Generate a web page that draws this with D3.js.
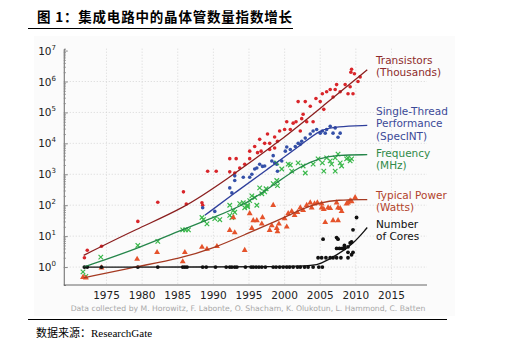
<!DOCTYPE html>
<html>
<head>
<meta charset="utf-8">
<script src="https://cdn.jsdelivr.net/npm/d3@7"></script>
<style>
  body { margin: 0; background: #fff; }
  text { font-family: "DejaVu Sans", sans-serif; }
</style>
</head>
<body>
<div id="chart"></div>
<script>
// values, [year, value]
const transistors = [[1971.9,2],[1972.3,3.5],[1974.3,4.7],[1979.4,30],[1982.2,125],[1985.8,270],[1986.2,110],
  [1988.4,120],[1988.5,100],[1989.2,1250],[1990.4,1250],[1992.3,3200],[1993.2,3200],[1992.3,1200],[1993,1100],
  [1993.7,1600],[1994.4,2100],[1995.1,3200],[1995.1,5600],[1995.8,7900],[1996.2,5000],[1996.7,5600],[1997.2,10000],
  [1996.5,13500],[1997.9,10000],[1997.6,20000],[1998.6,16000],[1998.6,7100],[1999.3,25000],[1999,11700],[2000,28000],
  [1997.9,6300],[2000.3,50000],[2000.8,28000],[2001.2,45000],[2001.6,50000],[2002.2,25000],[2002.4,63000],
  [2002.6,87000],[2003.1,50000],[2001.9,224000],[2002.9,224000],[2003.6,158000],[2004,50000],[2004.4,282000],
  [2005,224000],[2005.3,400000],[2005.5,126000],[2005.9,468000],[2006.4,550000],[2006.8,316000],[2007.1,550000],
  [2007.3,794000],[2007.8,468000],[2008.5,794000],[2009.2,676000],[2008.9,400000],[2009.6,400000],[2009.3,2000000],
  [2009.4,2500000],[2009.8,1780000],[2010.6,1410000],[2010.3,1000000]];

const singleThread = [[1988.5,83],[1990.2,63],[1992.3,363],[1992.6,250],[1993,630],[1993,890],[1994.2,800],
  [1995.4,1000],[1995.8,1480],[1996.1,1600],[1996.5,2100],[1996.9,1800],[1998.6,2350],[1995.1,800],[1997.2,1860],
  [1998.2,2700],[1998.9,2100],[1999,1260],[1998.4,4000],[1999.6,2700],[2000.1,5600],[2000.3,7600],[2000.8,6300],
  [2001.5,7900],[2001.9,10000],[2002.2,9300],[2002.4,11700],[2002.9,14800],[2003.6,20000],[2004,25000],
  [2004.5,28000],[2005.3,25000],[2005.7,21400],[2005.9,28000],[2006.4,35500],[2006.8,21400],[2007.1,31600],
  [2007.5,15800],[2007.8,21400],[2005,21400]];

const frequency = [[1971.7,0.7],[1972.1,0.5],[1974.2,2.1],[1979.4,5],[1982.2,6.8],[1985.7,16],[1986.1,16],
  [1986.5,16],[1988.4,40],[1988.6,34],[1989.1,25],[1990.2,37],[1990.9,34],[1992.3,47],[1992.6,40],[1992.8,68],
  [1993,59],[1992.3,100],[1993.7,112],[1994.2,120],[1994.4,83],[1994.8,89],[1995.1,141],[1995.4,200],[1995.8,178],
  [1994.8,100],[1996.1,100],[1996.8,234],[1997.2,270],[1997.4,340],[1996.5,363],[1998.4,500],[1998.9,630],
  [1999,430],[1998.9,2350],[1999.6,1480],[2000.5,2140],[2001,1260],[2001.9,2350],[2002.6,1860],[2002.9,1100],
  [2004,2140],[2004.7,3160],[2005.3,2350],[2005.5,1260],[2005.9,3400],[2006.4,2700],[2006.6,2140],[2007.1,3400],
  [2007.5,4470],[2007.8,2350],[2008,1860],[2008.7,3160],[2008.9,3400],[2009.2,2700],[2009.4,3160],[2007.1,1260],
  [2000.8,2000]];

const power = [[1971.7,0.47],[1972.1,0.45],[1974.3,0.95],[1979.3,1.8],[1982.1,3],[1985.7,1.5],[1986,3],
  [1988.4,4.4],[1989.1,3.8],[1990.5,4.7],[1992.3,15.5],[1993,13],[1994.4,3.5],[1992.8,40],[1995.1,54],[1995.4,18],
  [1995.6,32],[1996.1,32],[1996.8,25],[1996.9,40],[1997.9,15.5],[1998.2,22],[1998.4,100],[1998.9,18],[1999,14],
  [1999.2,25],[2000,37],[2000.3,20],[2000.5,54],[2001,63],[2001.4,47],[2001.8,59],[2002.2,83],[2002.6,68],
  [2003.1,100],[2003.6,120],[2003.8,83],[2004.2,112],[2004.6,120],[2005.2,112],[2005.2,83],[2005.7,28],
  [2005.5,74],[2006.1,83],[2006.4,79],[2006.8,32],[2007.3,120],[2007.5,32],[2007.5,83],[2007.8,79],[2008,63],
  [2008.7,112],[2008.9,120],[2009.2,141],[2009.4,132],[2009.9,178]];

const singleCoreYears = [1971.9,1972.3,1974.3,1979.4,1982.2,1985.7,1986,1986.3,1988.5,1989,1990.3,1991.8,
  1992.3,1992.6,1993,1993.3,1994.5,1995.3,1995.6,1996,1996.4,1996.8,1997.3,1998.4,1998.8,1999.3,1999.8,2000.3,
  2000.7,2001.2,2001.8,2002.2,2002.8,2003.3,2004,2004.8,2005.3];
const multiCores = [[2004.7,2],[2005.4,8],[2005.2,2],[2005.8,2],[2006.4,2],[2006.8,2],[2007.3,2],[2007.3,4],
  [2007.7,4],[2007.3,9],[2007.5,8],[2008.1,4],[2008.4,4],[2008.4,5],[2008.9,4.5],[2008.9,3],[2009.2,6],
  [2009.4,6.5],[2009.6,16],[2010.1,40],[2007.9,2],[2008.9,2],[2009.4,2.5],[2009.6,3]];

// trend lines, points
const transFit = [[1971.8,2.4],[1979.4,18],[1985.8,78],[1991.6,620],[1999.4,12000],[2005.5,170000],[2011.6,2400000]];
const threadFit = [[1988.8,47],[1993,250],[1997.2,1260],[2002.6,10000],[2005,28000],[2007.3,35000],[2011.6,38000]];
const freqFit = [[1971.8,1],[1979.4,4],[1985.3,15],[1990,40],[1994.7,110],[1999.4,650],[2002,1700],[2005,3400],[2007.5,4200],[2011.6,4300]];
const powerFit = [[1971.8,0.45],[1979.4,1.05],[1985.3,1.9],[1990,4],[1994.7,12],[2000,40],[2002.6,80],[2005,120],[2007.3,150],[2011.6,152]];
const coresFit = [[1971.8,1],[2003.5,1],[2005,1.25],[2007.3,2.4],[2009.6,5.5],[2011.6,19]];

const yearTicks = [1975,1980,1985,1990,1995,2000,2005,2010,2015];
const decadeTicks = [0,1,2,3,4,5,6,7];

const legend = [
  {lines: ["Transistors", "(Thousands)"], y: 64, color: "#8e2b2b"},
  {lines: ["Single-Thread", "Performance", "(SpecINT)"], y: 115, color: "#3b4a98"},
  {lines: ["Frequency", "(MHz)"], y: 157, color: "#2f8a48"},
  {lines: ["Typical Power", "(Watts)"], y: 199, color: "#b2432c"},
  {lines: ["Number", "of Cores"], y: 228, color: "#111"}
];

const W = 508, H = 350;
const svg = d3.select("#chart").append("svg")
  .attr("width", W).attr("height", H)
  .attr("viewBox", `0 0 ${W} ${H}`);

// header
const title = svg.append("text")
  .attr("x", 37).attr("y", 22)
  .style("font-family", "'Noto Sans CJK SC', sans-serif")
  .style("font-weight", "bold").style("font-size", "13.5px")
  .attr("textLength", 255).attr("lengthAdjust", "spacing");
title.append("tspan").text("图 1：");
title.append("tspan").text("集成电路中的晶体管数量指数增长");
svg.append("line").attr("x1", 28).attr("x2", 293).attr("y1", 28.5).attr("y2", 28.5)
  .attr("stroke", "#000").attr("stroke-width", 1);

// faint image background
svg.append("rect").attr("x", 34).attr("y", 36).attr("width", 421).attr("height", 280).attr("fill", "#fbfbfb");

const x = d3.scaleLinear().domain([1969, 2020]).range([63.75, 427.1]);
const y = d3.scaleLog().domain([0.263, 1.15e7]).range([285, 48.7]);

const g = svg.append("g");

// grid
g.selectAll(".vg").data(yearTicks).enter().append("line")
  .attr("x1", d => x(d)).attr("x2", d => x(d))
  .attr("y1", 48.7).attr("y2", 285)
  .attr("stroke", "#cfcfcf").attr("stroke-width", 0.8).attr("stroke-dasharray", "1,2");
g.selectAll(".hg").data(decadeTicks.slice(0, 7)).enter().append("line")
  .attr("x1", 63.75).attr("x2", 427)
  .attr("y1", d => y(Math.pow(10, d))).attr("y2", d => y(Math.pow(10, d)))
  .attr("stroke", "#cfcfcf").attr("stroke-width", 0.8).attr("stroke-dasharray", "1,2");

// axes
const yAxis = d3.axisRight(y)
  .tickValues(d3.range(0, 7).flatMap(e => d3.range(1, 10).map(m => m * Math.pow(10, e))).concat([1e7]))
  .tickSize(2).tickFormat("");
g.append("g").attr("transform", `translate(${x(1969)},0)`).call(yAxis)
  .call(a => a.select(".domain").attr("stroke", "#666"))
  .call(a => a.selectAll(".tick line").attr("stroke", "#888")
    .attr("x2", d => Math.abs(Math.log10(d) % 1) < 1e-9 ? 4 : 2));
g.append("line").attr("x1", x(1969)).attr("x2", 427).attr("y1", 285).attr("y2", 285).attr("stroke", "#666");

const yl = g.selectAll(".yl").data(decadeTicks).enter().append("text")
  .attr("x", 56).attr("y", d => y(Math.pow(10, d)) + 4)
  .attr("text-anchor", "end").style("font-size", "10.5px").attr("fill", "#222");
yl.append("tspan").text("10");
yl.append("tspan").attr("dy", -5).style("font-size", "7px").text(d => d);

g.selectAll(".xl").data(yearTicks).enter().append("text")
  .attr("x", d => x(d)).attr("y", 299)
  .attr("text-anchor", "middle").style("font-size", "10.5px").attr("fill", "#222")
  .text(d => d);

svg.append("text").attr("x", 248).attr("y", 311).attr("text-anchor", "middle")
  .style("font-size", "7.7px").attr("fill", "#a8a8a8")
  .text("Data collected by M. Horowitz, F. Labonte, O. Shacham, K. Olukotun, L. Hammond, C. Batten");

// trend lines
const line = d3.line().x(d => x(d[0])).y(d => y(d[1])).curve(d3.curveBasis);
const fits = [[transFit, "#8b1f1f"], [threadFit, "#2f3f9c"], [freqFit, "#25864a"], [powerFit, "#a53a22"], [coresFit, "#111"]];

// markers
const dots = (data, color, r) => g.append("g").selectAll("circle").data(data).enter().append("circle")
  .attr("cx", d => x(d[0])).attr("cy", d => y(d[1])).attr("r", r).attr("fill", color);

dots(transistors, "#d9252a", 1.8);
dots(singleThread, "#3450a8", 1.8);

const cross = d3.symbol().type(d3.symbolX).size(15);
g.append("g").selectAll("path").data(frequency).enter().append("path")
  .attr("d", cross).attr("transform", d => `translate(${x(d[0])},${y(d[1])})`)
  .attr("stroke", "#39b84a").attr("stroke-width", 1.2).attr("fill", "none");

const tri = d3.symbol().type(d3.symbolTriangle).size(15);
g.append("g").selectAll("path").data(power).enter().append("path")
  .attr("d", tri).attr("transform", d => `translate(${x(d[0])},${y(d[1])})`)
  .attr("fill", "#e5532b");

dots(singleCoreYears.map(yr => [yr, 1]), "#111", 1.9);
dots(multiCores, "#111", 1.9);

fits.forEach(([data, color]) => {
  g.append("path").datum(data).attr("d", line)
    .attr("fill", "none").attr("stroke", color).attr("stroke-width", 1.3);
});

// labels on the right
legend.forEach(l => {
  const t = svg.append("text").attr("x", 376).attr("y", l.y)
    .style("font-size", "10.5px").attr("fill", l.color);
  l.lines.forEach((s, i) => t.append("tspan").attr("x", 376).attr("dy", i ? 12.3 : 0).text(s));
});

// footer
svg.append("line").attr("x1", 28).attr("x2", 447).attr("y1", 319.5).attr("y2", 319.5)
  .attr("stroke", "#000").attr("stroke-width", 1);
const src = svg.append("text").attr("x", 36).attr("y", 337).style("font-size", "11px");
src.append("tspan").style("font-family", "'Noto Sans CJK SC', sans-serif").text("数据来源：");
src.append("tspan").style("font-family", "'Liberation Serif', serif").text("ResearchGate");
</script>
</body>
</html>
